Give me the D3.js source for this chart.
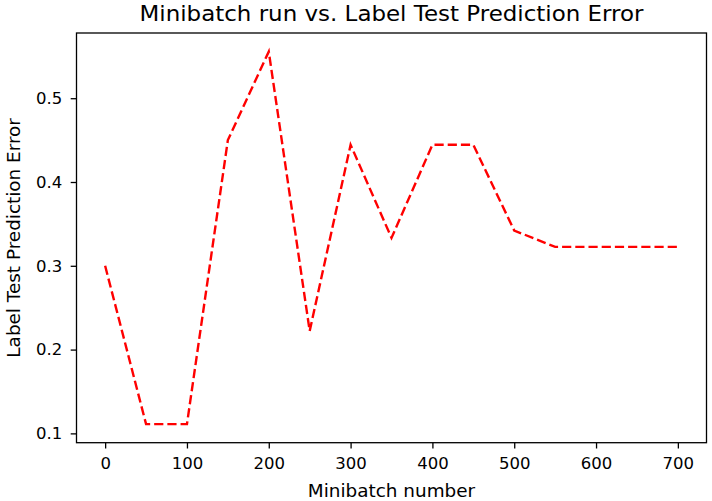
<!DOCTYPE html>
<html>
<head>
<meta charset="utf-8">
<script src="https://cdn.jsdelivr.net/npm/d3@7"></script>
<style>
  html, body { margin: 0; padding: 0; background: #fff; }
  svg { display: block; }
  text { font-family: "DejaVu Sans", sans-serif; fill: #000; }
</style>
</head>
<body>
<svg id="chart" width="712" height="501"></svg>
<script>
// Data
const minibatch = [0, 50, 100, 150, 200, 250, 300, 350, 400, 450, 500, 550, 600, 650, 700];
const predictionError = [0.3, 0.1111, 0.1111, 0.45, 0.5556, 0.2222, 0.4444, 0.3333, 0.4444, 0.4444, 0.3421, 0.3226, 0.3226, 0.3226, 0.3226];
const xTicks = [0, 100, 200, 300, 400, 500, 600, 700];
const yTicks = [0.1, 0.2, 0.3, 0.4, 0.5];
const titleText = "Minibatch run vs. Label Test Prediction Error";
const xLabel = "Minibatch number";
const yLabel = "Label Test Prediction Error";

const svg = d3.select("#chart");
const plot = { left: 76.5, right: 706.5, top: 33, bottom: 442.7 };

function padded(ext) {
  const r = ext[1] - ext[0];
  return [ext[0] - 0.05 * r, ext[1] + 0.05 * r];
}

const x = d3.scaleLinear().domain(padded(d3.extent(minibatch))).range([plot.left, plot.right]);
const y = d3.scaleLinear().domain(padded(d3.extent(predictionError))).range([plot.bottom, plot.top]);

const tickLen = 5.8, tickPad = 8.5, fs = 16.5, labelFs = 18.4;

// line
const pts = minibatch.map((m, i) => [m, predictionError[i]]);
svg.append("path")
  .datum(pts)
  .attr("fill", "none")
  .attr("stroke", "#ff0000")
  .attr("stroke-width", 2.4)
  .attr("stroke-dasharray", "9.2,4")
  .attr("d", d3.line().x(d => x(d[0])).y(d => y(d[1])));

// axes
const xAxis = svg.append("g")
  .attr("transform", `translate(0,${plot.bottom})`)
  .call(d3.axisBottom(x).tickValues(xTicks).tickFormat(d3.format("d")).tickSize(tickLen).tickPadding(tickPad).tickSizeOuter(0));
const yAxis = svg.append("g")
  .attr("transform", `translate(${plot.left},0)`)
  .call(d3.axisLeft(y).tickValues(yTicks).tickFormat(d3.format(".1f")).tickSize(tickLen).tickPadding(tickPad).tickSizeOuter(0));

[xAxis, yAxis].forEach(g => {
  g.select(".domain").remove();
  g.selectAll(".tick line").attr("stroke", "#000").attr("stroke-width", 1.3);
  g.selectAll(".tick text").attr("font-size", fs).attr("font-family", "DejaVu Sans").attr("fill", "#000");
});

// frame
svg.append("rect")
  .attr("x", plot.left).attr("y", plot.top)
  .attr("width", plot.right - plot.left).attr("height", plot.bottom - plot.top)
  .attr("fill", "none").attr("stroke", "#000").attr("stroke-width", 1.3);

const cx = (plot.left + plot.right) / 2;
const cy = (plot.top + plot.bottom) / 2;

svg.append("text")
  .attr("x", cx).attr("y", 21)
  .attr("text-anchor", "middle")
  .attr("font-size", 21)
  .attr("textLength", 504)
  .attr("lengthAdjust", "spacingAndGlyphs")
  .text(titleText);

svg.append("text")
  .attr("x", cx).attr("y", 497)
  .attr("text-anchor", "middle")
  .attr("font-size", labelFs)
  .text(xLabel);

svg.append("text")
  .attr("transform", `translate(19.5,${cy}) rotate(-90)`)
  .attr("text-anchor", "middle")
  .attr("font-size", labelFs)
  .text(yLabel);
</script>
</body>
</html>
